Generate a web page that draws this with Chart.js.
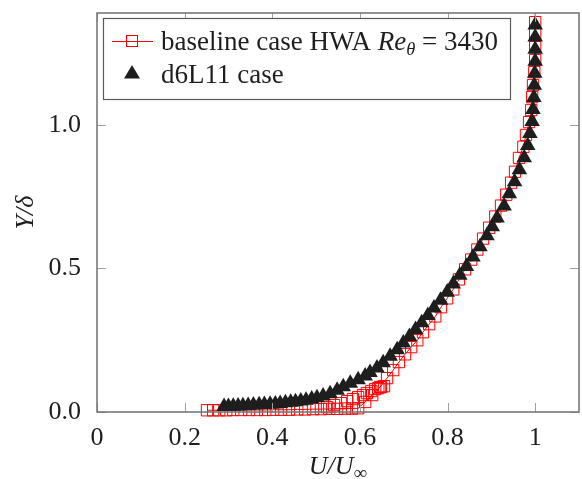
<!DOCTYPE html>
<html>
<head>
<meta charset="utf-8">
<script src="https://cdn.jsdelivr.net/npm/chart.js@4.4.0/dist/chart.umd.min.js"></script>
<style>
  html, body { margin: 0; padding: 0; background: #fff; }
  #wrap { width: 582px; height: 479px; }
</style>
</head>
<body>
<div id="wrap"><canvas id="profileChart" width="582" height="479"></canvas></div>
<script>
// baseline case HWA (red squares joined by a line)
const hwaU = [0.251, 0.265, 0.279, 0.295, 0.311, 0.329, 0.347, 0.365, 0.384, 0.402, 0.420, 0.438, 0.457, 0.475, 0.493, 0.511, 0.530, 0.548, 0.566, 0.582, 0.596,
  0.612, 0.628, 0.646, 0.662, 0.676, 0.689, 0.703, 0.717, 0.731, 0.744, 0.758, 0.772, 0.785, 0.799, 0.813, 0.826, 0.840, 0.854, 0.868, 0.881,
  0.895, 0.909, 0.922, 0.934, 0.945, 0.954, 0.963, 0.973, 0.979, 0.986, 0.991, 0.993, 0.995, 0.998, 1.0, 1.0, 1.0, 1.0, 1.0];
const hwaY = [0.006, 0.006, 0.006, 0.006, 0.007, 0.007, 0.007, 0.007, 0.007, 0.008, 0.008, 0.008, 0.009, 0.009, 0.010, 0.010, 0.011, 0.011, 0.012, 0.012, 0.013,
  0.035, 0.059, 0.087, 0.118, 0.146, 0.174, 0.201, 0.226, 0.250, 0.278, 0.306, 0.333, 0.365, 0.396, 0.427, 0.462, 0.497, 0.531, 0.566, 0.604,
  0.642, 0.681, 0.719, 0.757, 0.799, 0.837, 0.885, 0.924, 0.965, 1.010, 1.052, 1.097, 1.139, 1.184, 1.226, 1.271, 1.316, 1.358, 1.413];
// HWA near-wall points lying off the line
const hwaExtraU = [0.525, 0.541, 0.557, 0.571, 0.584, 0.596, 0.607, 0.616, 0.626, 0.635, 0.642, 0.648, 0.655];
const hwaExtraY = [0.017, 0.024, 0.031, 0.038, 0.045, 0.052, 0.059, 0.066, 0.073, 0.080, 0.083, 0.087, 0.090];

// d6L11 case (black triangles)
const d6U = [0.290, 0.300, 0.311, 0.322, 0.333, 0.345, 0.357, 0.370, 0.382, 0.395, 0.407, 0.418, 0.430, 0.442, 0.453, 0.465, 0.477, 0.490, 0.502, 0.516,
  0.532, 0.548, 0.562, 0.578, 0.596, 0.612, 0.623, 0.639, 0.653, 0.669, 0.685, 0.699, 0.713, 0.727, 0.741, 0.755, 0.769, 0.784, 0.799, 0.813,
  0.828, 0.843, 0.858, 0.874, 0.890, 0.902, 0.913, 0.929, 0.941, 0.953, 0.964, 0.975, 0.983, 0.988, 0.993, 0.995, 0.997, 0.998, 0.999, 1.0,
  1.0, 1.0, 1.0];
const d6Y = [0.019, 0.019, 0.020, 0.021, 0.022, 0.023, 0.024, 0.025, 0.026, 0.027, 0.028, 0.030, 0.032, 0.034, 0.036, 0.038, 0.041, 0.045, 0.050, 0.056,
  0.064, 0.076, 0.088, 0.100, 0.112, 0.125, 0.138, 0.153, 0.172, 0.194, 0.217, 0.240, 0.263, 0.287, 0.311, 0.336, 0.362, 0.389, 0.417, 0.446,
  0.476, 0.507, 0.540, 0.576, 0.614, 0.645, 0.676, 0.718, 0.760, 0.802, 0.844, 0.886, 0.928, 0.970, 1.012, 1.054, 1.096, 1.138, 1.180, 1.222,
  1.264, 1.306, 1.348];

const xTicks = [0, 0.2, 0.4, 0.6, 0.8, 1];
const yTicks = [0, 0.5, 1.0];
const xMax = 1.1;
const yMax = 1.39;

const serif = '"Liberation Serif", "Times New Roman", serif';
const ink = '#1e1e1e';
const red = '#ff0000';

const pts = (us, ys) => us.map((u, i) => ({ x: u, y: ys[i] }));

// drawn after the data: frame, inward ticks, axis titles and the legend box
const decorations = {
  id: 'decorations',
  afterDatasetsDraw(chart) {
    const { ctx, chartArea: a, scales: { x, y } } = chart;
    ctx.save();

    // inward ticks on all four sides
    ctx.strokeStyle = '#a0a0a0';
    ctx.lineWidth = 1;
    ctx.beginPath();
    xTicks.forEach(v => {
      const px = Math.round(x.getPixelForValue(v)) + 0.5;
      ctx.moveTo(px, a.bottom); ctx.lineTo(px, a.bottom - 9);
      ctx.moveTo(px, a.top); ctx.lineTo(px, a.top + 9);
    });
    yTicks.forEach(v => {
      const py = Math.round(y.getPixelForValue(v)) + 0.5;
      ctx.moveTo(a.left, py); ctx.lineTo(a.left + 9, py);
      ctx.moveTo(a.right, py); ctx.lineTo(a.right - 9, py);
    });
    ctx.stroke();

    ctx.strokeStyle = '#707070';
    ctx.lineWidth = 1.5;
    ctx.strokeRect(a.left, a.top, a.right - a.left, a.bottom - a.top);

    // x title: U/U∞
    ctx.fillStyle = ink;
    ctx.textBaseline = 'alphabetic';
    const f1 = 'italic 26px ' + serif, f2 = '19px ' + serif;
    ctx.font = f1; const w1 = ctx.measureText('U/U').width;
    ctx.font = f2; const w2 = ctx.measureText('\u221E').width;
    let tx = (a.left + a.right) / 2 - (w1 + w2) / 2;
    ctx.font = f1; ctx.fillText('U/U', tx, 474);
    ctx.font = f2; ctx.fillText('\u221E', tx + w1, 479);

    // y title: Y/δ
    ctx.save();
    ctx.translate(33, (a.top + a.bottom) / 2);
    ctx.rotate(-Math.PI / 2);
    ctx.font = f1;
    ctx.textAlign = 'center';
    ctx.fillText('Y/\u03B4', 0, 0);
    ctx.restore();

    // legend
    const lx = 103, ly = 18, lw = 407, lh = 81;
    ctx.fillStyle = '#fff';
    ctx.fillRect(lx, ly, lw, lh);
    ctx.strokeStyle = '#5a5a5a';
    ctx.lineWidth = 1.2;
    ctx.strokeRect(lx + 0.5, ly + 0.5, lw, lh);

    const r1 = 41, r2 = 74, mx = 132;
    ctx.strokeStyle = red;
    ctx.lineWidth = 1;
    ctx.beginPath(); ctx.moveTo(112, r1 + 0.5); ctx.lineTo(153, r1 + 0.5); ctx.stroke();
    ctx.strokeRect(mx - 5.5, r1 - 5.5, 11, 11);

    ctx.fillStyle = ink;
    ctx.beginPath();
    ctx.moveTo(mx, r2 - 9);
    ctx.lineTo(mx + 8, r2 + 4.5);
    ctx.lineTo(mx - 8, r2 + 4.5);
    ctx.closePath();
    ctx.fill();

    const fN = '27px ' + serif, fI = 'italic 27px ' + serif, fS = 'italic 18.5px ' + serif;
    let cx = 161;
    const b1 = r1 + 9;
    const part = (txt, font, dy) => { ctx.font = font; ctx.fillText(txt, cx, b1 + (dy || 0)); cx += ctx.measureText(txt).width; };
    part('baseline case HWA ', fN);
    part('Re', fI);
    part('\u03B8', fS, 5);
    part(' = 3430', fN);
    ctx.font = fN;
    ctx.fillText('d6L11 case', 161, r2 + 9);

    ctx.restore();
  }
};

new Chart(document.getElementById('profileChart').getContext('2d'), {
  type: 'scatter',
  data: {
    datasets: [
      {
        label: 'd6L11 case',
        data: pts(d6U, d6Y),
        showLine: false,
        pointStyle: 'triangle',
        pointRadius: 9,
        backgroundColor: ink,
        borderColor: ink,
        borderWidth: 0,
        order: 0,
        clip: { left: 12, right: 12, top: 0, bottom: 12 }
      },
      {
        label: 'baseline case HWA',
        data: pts(hwaU, hwaY),
        showLine: true,
        borderColor: red,
        borderWidth: 1,
        pointStyle: 'rect',
        pointRadius: 8,
        pointBorderColor: red,
        pointBackgroundColor: 'rgba(0,0,0,0)',
        pointBorderWidth: 1,
        order: 1,
        clip: { left: 12, right: 12, top: 0, bottom: 12 }
      },
      {
        label: 'baseline case HWA (off line)',
        data: pts(hwaExtraU, hwaExtraY),
        showLine: false,
        pointStyle: 'rect',
        pointRadius: 8,
        pointBorderColor: red,
        pointBackgroundColor: 'rgba(0,0,0,0)',
        pointBorderWidth: 1,
        order: 2,
        clip: { left: 12, right: 12, top: 0, bottom: 12 }
      }
    ]
  },
  options: {
    responsive: false,
    animation: false,
    layout: { autoPadding: false, padding: { top: 13, right: 3, left: 0, bottom: 0 } },
    plugins: { legend: { display: false }, tooltip: { enabled: false } },
    scales: {
      x: {
        type: 'linear',
        min: 0,
        max: xMax,
        afterBuildTicks: s => { s.ticks = xTicks.map(v => ({ value: v })); },
        afterFit: s => { s.height = 67; s.paddingLeft = 0; s.paddingRight = 0; },
        grid: { display: false },
        border: { display: false },
        ticks: {
          color: ink,
          font: { family: serif, size: 26 },
          padding: 3,
          maxRotation: 0,
          callback: v => (v === 0 || v === 1) ? String(v) : v.toFixed(1)
        }
      },
      y: {
        type: 'linear',
        min: 0,
        max: yMax,
        afterBuildTicks: s => { s.ticks = yTicks.map(v => ({ value: v })); },
        afterFit: s => { s.width = 97; s.paddingTop = 0; s.paddingBottom = 0; },
        grid: { display: false },
        border: { display: false },
        ticks: {
          color: ink,
          font: { family: serif, size: 26 },
          padding: 8,
          callback: v => v.toFixed(1)
        }
      }
    }
  },
  plugins: [decorations]
});
</script>
</body>
</html>
